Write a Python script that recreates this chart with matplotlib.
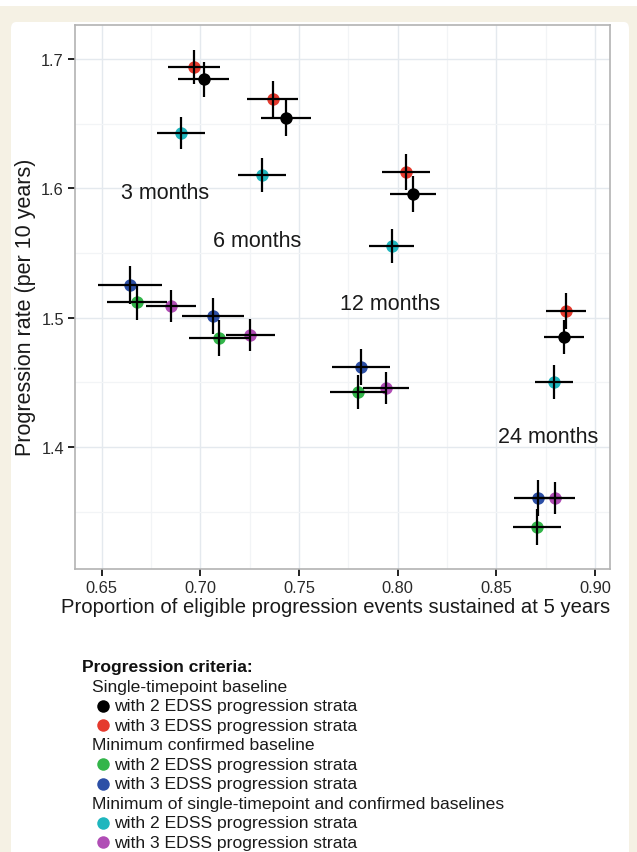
import matplotlib
matplotlib.use("Agg")
import matplotlib.pyplot as plt
from matplotlib.patches import FancyBboxPatch, Rectangle
from matplotlib.lines import Line2D
from matplotlib.ticker import MultipleLocator

plt.rcParams['font.family'] = ['Liberation Sans', 'DejaVu Sans']

# confirmation periods (one value per period in every series below)
periods = ['3 months', '6 months', '12 months', '24 months']
label_x = [0.6821, 0.7290, 0.7961, 0.8760]
label_y = [1.5971, 1.5600, 1.5113, 1.4084]

# single-timepoint baseline
st2_x = [0.7018, 0.7434, 0.8078, 0.8843]
st2_y = [1.6845, 1.6544, 1.5956, 1.4850]
st2_xe = [0.0129, 0.0127, 0.0117, 0.0099]
st2_ye = [0.0135, 0.0139, 0.0137, 0.0129]

st3_x = [0.6968, 0.7368, 0.8042, 0.8853]
st3_y = [1.6938, 1.6691, 1.6126, 1.5051]
st3_xe = [0.0132, 0.0129, 0.0122, 0.0101]
st3_ye = [0.0135, 0.0139, 0.0139, 0.0139]

# minimum confirmed baseline
mc2_x = [0.6679, 0.7095, 0.7799, 0.8706]
mc2_y = [1.5121, 1.4842, 1.4425, 1.3381]
mc2_xe = [0.0152, 0.0152, 0.0142, 0.0122]
mc2_ye = [0.0139, 0.0139, 0.0135, 0.0139]

mc3_x = [0.6643, 0.7064, 0.7814, 0.8711]
mc3_y = [1.5252, 1.5012, 1.4618, 1.3605]
mc3_xe = [0.0161, 0.0157, 0.0147, 0.0122]
mc3_ye = [0.0147, 0.0139, 0.0139, 0.0139]

# minimum of single-timepoint and confirmed baselines
mb2_x = [0.6902, 0.7312, 0.7971, 0.8792]
mb2_y = [1.6428, 1.6103, 1.5554, 1.4502]
mb2_xe = [0.0124, 0.0122, 0.0114, 0.0096]
mb2_ye = [0.0124, 0.0129, 0.0128, 0.0129]

mb3_x = [0.6851, 0.7252, 0.7941, 0.8797]
mb3_y = [1.5090, 1.4865, 1.4456, 1.3605]
mb3_xe = [0.0127, 0.0124, 0.0117, 0.0100]
mb3_ye = [0.0124, 0.0124, 0.0124, 0.0124]

groups = ['Single-timepoint baseline', 'Minimum confirmed baseline',
          'Minimum of single-timepoint and confirmed baselines']
strata = ['with 2 EDSS progression strata', 'with 3 EDSS progression strata']

series = [
    (st2_x, st2_y, st2_xe, st2_ye, '#000000'),
    (st3_x, st3_y, st3_xe, st3_ye, '#e53a2e'),
    (mc2_x, mc2_y, mc2_xe, mc2_ye, '#33b54a'),
    (mc3_x, mc3_y, mc3_xe, mc3_ye, '#2c4fa6'),
    (mb2_x, mb2_y, mb2_xe, mb2_ye, '#1fb6be'),
    (mb3_x, mb3_y, mb3_xe, mb3_ye, '#b04db5'),
]

W, H = 637, 853
fig = plt.figure(figsize=(W / 100, H / 100), dpi=100)
fig.patch.set_facecolor('#f5f1e4')


def fx(px):
    return px / W


def fy(py):
    return 1 - py / H


# white strip on top and the white card
fig.patches.append(Rectangle((0, fy(7)), 1, 7 / H, transform=fig.transFigure,
                             facecolor='white', edgecolor='none', zorder=-2))
fig.patches.append(FancyBboxPatch((fx(11), fy(860)), (629 - 11) / W, (860 - 23) / H,
                                  boxstyle='round,pad=0,rounding_size=0.008',
                                  transform=fig.transFigure, facecolor='white',
                                  edgecolor='none', zorder=-1))

ax = fig.add_axes([fx(75), fy(570), (610 - 75) / W, (570 - 26) / H])
ax.set_facecolor('white')

for xs, ys, xe, ye, col in series:
    ax.scatter(xs, ys, s=80, color=col, zorder=3, linewidths=0)
    ax.errorbar(xs, ys, xerr=xe, yerr=ye, fmt='none', ecolor='black',
                elinewidth=1.6, capsize=0, zorder=4)

for name, tx, ty in zip(periods, label_x, label_y):
    ax.text(tx, ty, name, ha='center', va='center', fontsize=15.5, color='#1a1a1a')

ax.set_xlim(0.6365, 0.9076)
ax.set_ylim(1.3056, 1.7263)
ax.xaxis.set_minor_locator(MultipleLocator(0.025))
ax.yaxis.set_minor_locator(MultipleLocator(0.05))
ax.set_xticks([0.65, 0.70, 0.75, 0.80, 0.85, 0.90])
ax.set_xticklabels(['0.65', '0.70', '0.75', '0.80', '0.85', '0.90'])
ax.set_yticks([1.4, 1.5, 1.6, 1.7])
ax.set_yticklabels(['1.4', '1.5', '1.6', '1.7'])
ax.grid(which='major', color='#e4e9ee', linewidth=1.0)
ax.grid(which='minor', color='#f2f4f6', linewidth=0.9)
ax.set_axisbelow(True)
ax.tick_params(which='major', length=5, width=1.4, color='#222222',
               labelsize=11.8, labelcolor='#2a2a2a', pad=3)
ax.tick_params(which='minor', length=0)
for sp in ax.spines.values():
    sp.set_color('#b3b3b3')
    sp.set_linewidth(1.2)

ax.set_xlabel('Proportion of eligible progression events sustained at 5 years',
              fontsize=14.6, color='#1a1a1a')
ax.set_ylabel('Progression rate (per 10 years)', fontsize=15.5, color='#1a1a1a')
ax.xaxis.set_label_coords(0.487, -0.052)
ax.yaxis.set_label_coords(-0.072, 0.483)

# legend drawn as figure text
row = 19.45
y0 = 668
fig.text(fx(82), fy(y0), 'Progression criteria:', fontsize=12.6, fontweight='bold',
         va='center', color='#111111')
k = 1
for g, name in enumerate(groups):
    fig.text(fx(92), fy(y0 + k * row), name, fontsize=12.6, va='center', color='#1a1a1a')
    k += 1
    for s, lab in enumerate(strata):
        col = series[2 * g + s][4]
        fig.lines.append(Line2D([fx(103)], [fy(y0 + k * row)], marker='o',
                                markersize=9, color=col, markeredgewidth=0,
                                transform=fig.transFigure))
        fig.text(fx(114), fy(y0 + k * row), lab, fontsize=12.6, va='center',
                 color='#1a1a1a')
        k += 1

fig.savefig('out.png', dpi=100, facecolor=fig.get_facecolor())
